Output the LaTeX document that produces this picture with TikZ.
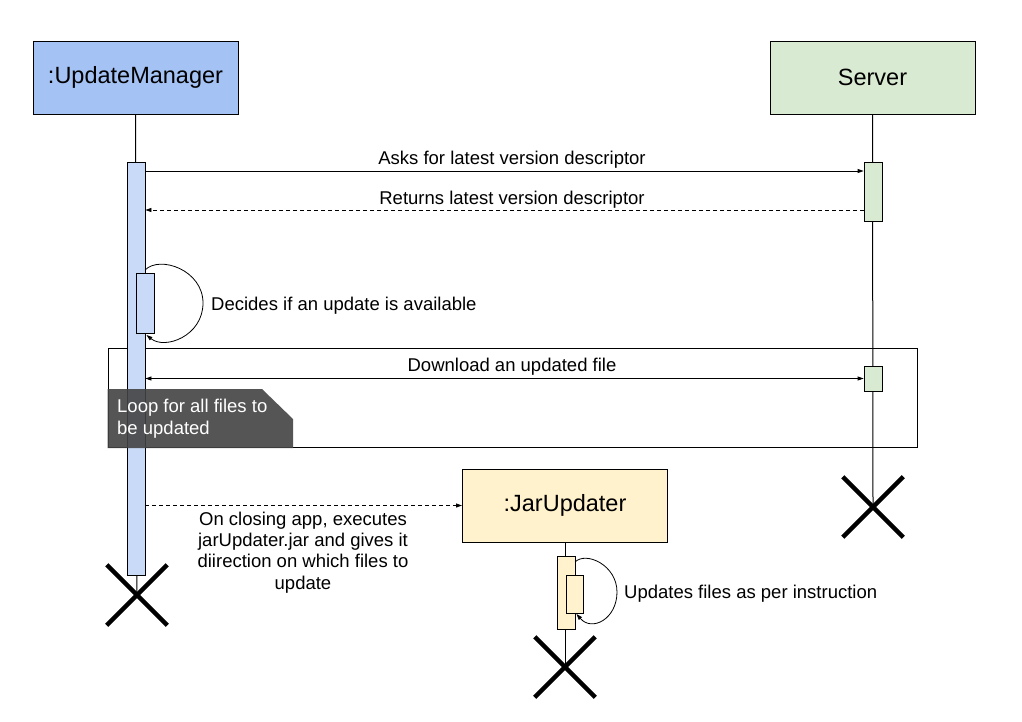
\documentclass[tikz,border=0pt]{standalone}
\usepackage{fontspec}
\setmainfont{Liberation Sans}
\usetikzlibrary{arrows.meta,shapes.misc,backgrounds,calc}
\definecolor{umfill}{HTML}{A4C2F4}
\definecolor{umact}{HTML}{C9DAF8}
\definecolor{srvfill}{HTML}{D9EAD3}
\definecolor{jarfill}{HTML}{FFF2CC}
\definecolor{loopfill}{HTML}{434343}
\begin{document}
\begin{tikzpicture}[x=1pt,y=-1pt,
  objbox/.style={draw=black,line width=1pt,inner sep=0pt,minimum width=205pt,minimum height=73pt,font=\fontsize{23.5}{28}\selectfont},
  actbar/.style={draw=black,line width=0.8pt,inner sep=0pt,minimum width=18pt},
  msgtext/.style={font=\fontsize{18.5}{21.3}\selectfont,inner sep=0pt},
  msgline/.style={line width=0.8pt},
  tip/.style={-{Triangle[length=6pt,width=4pt]}},
  xmark/.style={draw=black,cross out,line width=4.5pt,inner sep=0pt,minimum size=56pt},
  life/.style={line width=1pt}]
\useasboundingbox (0,0) rectangle (1022,721);

% participants
\node[objbox,fill=umfill] (um) at (135.5,77.5) {:UpdateManager};
\node[objbox,fill=srvfill] (srv) at (872.5,77.5) {Server};
\node[objbox,fill=jarfill] (jar) at (565,505.5) {:JarUpdater};

% loop frame
\node[draw=black,line width=0.8pt,inner sep=0pt,minimum width=809pt,minimum height=99pt] (loop) at (512.5,397.5) {};

% activation bars
\node[actbar,fill=umact,minimum height=413pt] (umA) at (136,368.5) {};
\node[actbar,fill=umact,minimum height=60pt] (umB) at (145,303) {};
\node[actbar,fill=srvfill,minimum height=59pt] (srvA) at (873,191.5) {};
\node[actbar,fill=srvfill,minimum height=25pt] (srvB) at (873,378.5) {};
\node[actbar,fill=jarfill,minimum height=73pt] (jarA) at (566,592.5) {};
\node[actbar,fill=jarfill,minimum width=17pt,minimum height=38pt] (jarB) at (574.5,594) {};

% destruction marks
\node[xmark] (umX) at (137,595) {};
\node[xmark] (srvX) at (873,507) {};
\node[xmark] (jarX) at (565,667) {};

% lifelines
\begin{scope}[on background layer]
\draw[life] (um.south) -- (umX.center);
\draw[life] (srv.south) -- (srvX.center);
\draw[life] (jar.south) -- (jarX.center);
\end{scope}

% loop label
\fill[loopfill,fill opacity=0.9] (loop.north west |- 0,389) -- (262,389) -- (293,419) -- (293,448) -- (loop.south west |- 0,448) -- cycle;
\node[msgtext,text=white,align=left,anchor=base west] (looplbl) at (117,434) {Loop for all files to\\be updated};

% messages
\node[msgtext,anchor=base] (m1) at (512,164) {Asks for latest version descriptor};
\draw[msgline,tip] (umA.east |- 0,171) -- (srvA.west |- 0,171);

\node[msgtext,anchor=base] (m2) at (512,204) {Returns latest version descriptor};
\draw[msgline,tip,dashed,dash pattern=on 4pt off 3pt] (srvA.west |- 0,210) -- (umA.east |- 0,210);

\coordinate (umLs) at (145,270);
\coordinate (umLe) at (146.5,335);
\node[msgtext,anchor=base west] (m3) at (211,310) {Decides if an update is available};
\draw[msgline,tip] (umLs) .. controls (160,255) and (203,270) .. (203,303) .. controls (203,336) and (165,350) .. (umLe);

\node[msgtext,anchor=base] (m4) at (512,371) {Download an updated file};
\draw[msgline,{Triangle[length=6pt,width=4pt]}-{Triangle[length=6pt,width=4pt]}] (umA.east |- srvB.west) -- (srvB.west);

\node[msgtext,align=center,anchor=base] (m5) at (303,589) {On closing app, executes\\jarUpdater.jar and gives it\\diirection on which files to\\update};
\draw[msgline,tip,dashed,dash pattern=on 4pt off 3pt] (umA.east |- jar.west) -- (jar.west);

\coordinate (jarLs) at (575,562);
\coordinate (jarLe) at (576.5,614);
\node[msgtext,anchor=base west] (m6) at (624,598) {Updates files as per instruction};
\draw[msgline,tip] (jarLs) .. controls (586,551) and (617,565) .. (617,592) .. controls (617,619) and (592,632) .. (jarLe);
\end{tikzpicture}
\end{document}
